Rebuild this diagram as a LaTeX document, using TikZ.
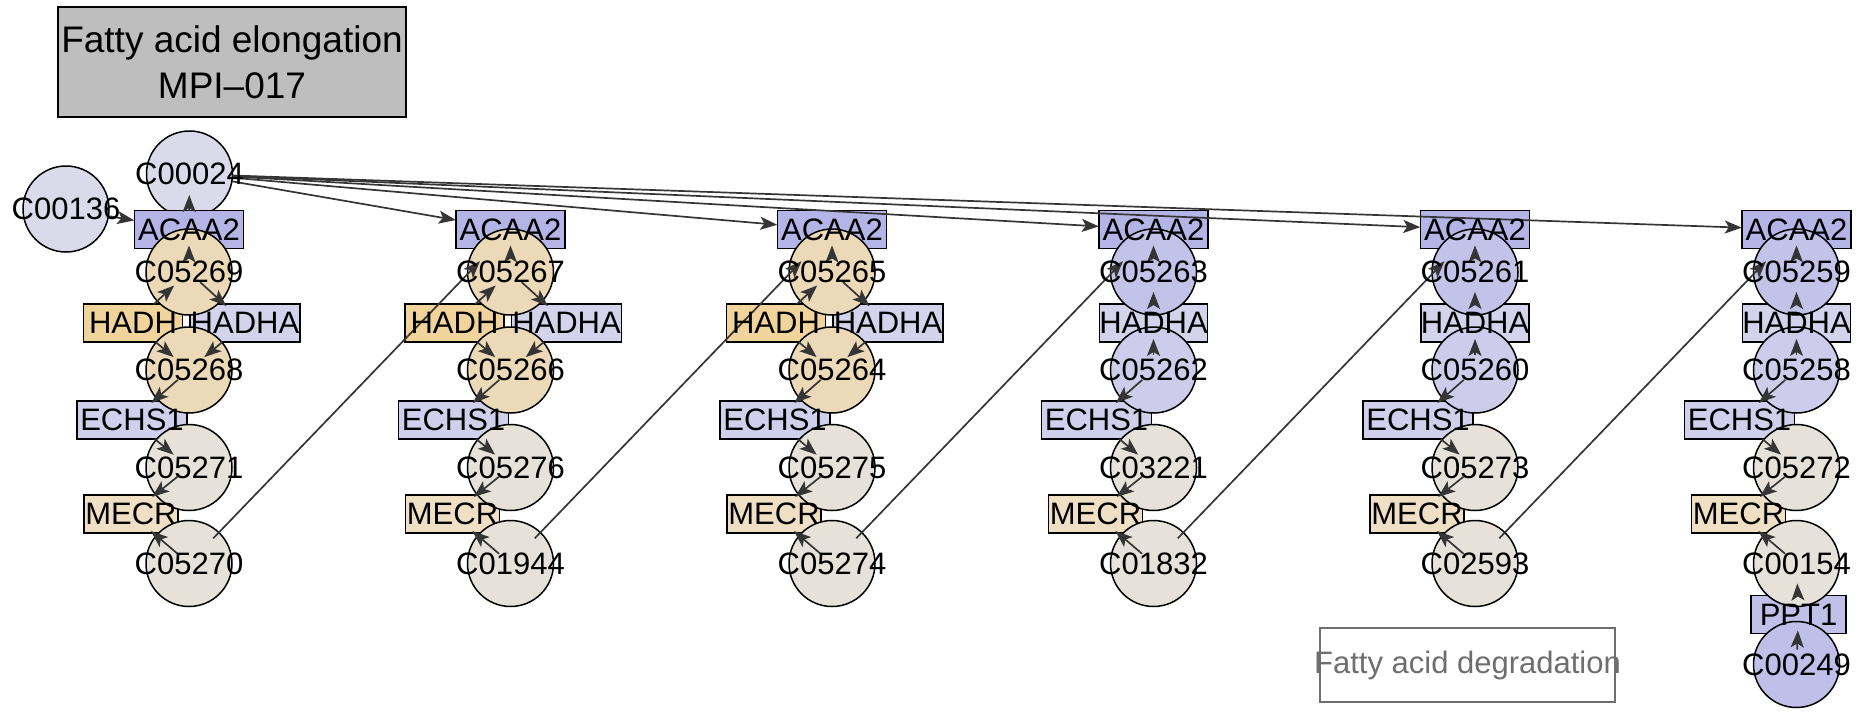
\documentclass[tikz,border=0pt]{standalone}
\usepackage{fontspec}
\setmainfont{Liberation Sans}
\usetikzlibrary{arrows.meta}
\pgfdeclarelayer{bg}
\pgfdeclarelayer{edges}
\pgfsetlayers{bg,edges,main}

\definecolor{titlefill}{HTML}{BEBEBE}
\definecolor{cA}{HTML}{DADAEB}
\definecolor{cW}{HTML}{ECD9B8}
\definecolor{cG}{HTML}{E6E2D9}
\definecolor{cL}{HTML}{C3C3EA}
\definecolor{cLL}{HTML}{CDCDEB}
\definecolor{cP}{HTML}{BFBFEA}
\definecolor{eA}{HTML}{B4B4E6}
\definecolor{eH}{HTML}{F1D49C}
\definecolor{eHA}{HTML}{D3D3EB}
\definecolor{eE}{HTML}{D0D0EC}
\definecolor{eM}{HTML}{EFDFC5}
\definecolor{eP}{HTML}{C0C0E8}
\definecolor{edgecol}{HTML}{353535}
\definecolor{degcol}{HTML}{6E6E6E}

\newcommand\mb[1]{\makebox[0pt]{#1}}
\newcommand\labfont{\fontsize{31}{36}\selectfont}

\tikzset{
  cpd/.style={circle, minimum size=86pt, inner sep=0pt, font=\labfont,
    append after command={\pgfextra{\begin{pgfonlayer}{bg}\filldraw[fill=#1,draw=black,line width=1.5pt] (\tikzlastnode.center) circle[radius=43pt];\end{pgfonlayer}}}},
  enz/.style 2 args={rectangle, minimum width=#2pt, minimum height=37.5pt, inner sep=0pt, font=\labfont,
    append after command={\pgfextra{\begin{pgfonlayer}{bg}\filldraw[fill=#1,draw=black,line width=1.5pt] (\tikzlastnode.south west) rectangle (\tikzlastnode.north east);\end{pgfonlayer}}}},
  ed/.style={draw=edgecol, line width=1.7pt, -{Stealth[length=17pt,width=13pt,inset=4pt]}},
  cb/.style={ed, shorten <=15pt, shorten >=-3pt},
  bc/.style={ed, shorten >=20pt},
  lng/.style={ed, shorten <=35pt, shorten >=44pt},
}

\begin{document}
\begin{tikzpicture}[x=1pt,y=-1pt]
\useasboundingbox (0,0) rectangle (1862,715);

% title and pathway link
\node[draw=black, line width=1.5pt, fill=titlefill, minimum width=348pt, minimum height=110pt, inner sep=0pt, align=center, font=\fontsize{37}{46}\selectfont] (title) at (232,62) {Fatty acid elongation\\MPI–017};
\node[draw=degcol, line width=1.8pt, minimum width=295pt, minimum height=74pt, inner sep=0pt, text=degcol, font=\fontsize{31}{36}\selectfont] (deg) at (1467.5,665) {\makebox[295pt]{Fatty acid degradation}};

% first compounds
\node[cpd=cA] (c00136) at (66,209) {\mb{C00136}};
\node[cpd=cA] (c00024) at (189.5,174) {\mb{C00024}};

% enzymes
\node[enz={eA}{109}] (a1) at (189,229.5) {\mb{ACAA2}};
\node[enz={eA}{109}] (a2) at (510.5,229.5) {\mb{ACAA2}};
\node[enz={eA}{109}] (a3) at (832,229.5) {\mb{ACAA2}};
\node[enz={eA}{109}] (a4) at (1153.5,229.5) {\mb{ACAA2}};
\node[enz={eA}{109}] (a5) at (1475,229.5) {\mb{ACAA2}};
\node[enz={eA}{109}] (a6) at (1796.5,229.5) {\mb{ACAA2}};

\node[enz={eH}{99}] (h1) at (133,323) {\mb{HADH}};
\node[enz={eH}{99}] (h2) at (454.5,323) {\mb{HADH}};
\node[enz={eH}{99}] (h3) at (776,323) {\mb{HADH}};
\node[enz={eHA}{110}] (ha1) at (245,323) {\mb{HADHA}};
\node[enz={eHA}{110}] (ha2) at (566.5,323) {\mb{HADHA}};
\node[enz={eHA}{110}] (ha3) at (888,323) {\mb{HADHA}};
\node[enz={eHA}{108}] (ha4) at (1153.5,323) {\mb{HADHA}};
\node[enz={eHA}{108}] (ha5) at (1475,323) {\mb{HADHA}};
\node[enz={eHA}{108}] (ha6) at (1796.5,323) {\mb{HADHA}};

\node[enz={eE}{110}] (e1) at (132,420) {\mb{ECHS1}};
\node[enz={eE}{110}] (e2) at (453.5,420) {\mb{ECHS1}};
\node[enz={eE}{110}] (e3) at (775,420) {\mb{ECHS1}};
\node[enz={eE}{110}] (e4) at (1096.5,420) {\mb{ECHS1}};
\node[enz={eE}{110}] (e5) at (1418,420) {\mb{ECHS1}};
\node[enz={eE}{110}] (e6) at (1739.5,420) {\mb{ECHS1}};

\node[enz={eM}{94}] (m1) at (131,514) {\mb{MECR}};
\node[enz={eM}{94}] (m2) at (452.5,514) {\mb{MECR}};
\node[enz={eM}{94}] (m3) at (774,514) {\mb{MECR}};
\node[enz={eM}{94}] (m4) at (1095.5,514) {\mb{MECR}};
\node[enz={eM}{94}] (m5) at (1417,514) {\mb{MECR}};
\node[enz={eM}{94}] (m6) at (1738.5,514) {\mb{MECR}};

\node[enz={eP}{95}] (ppt1) at (1798.5,614.5) {\mb{PPT1}};

% compounds
\node[cpd=cW] (c05269) at (189,272) {\mb{C05269}};
\node[cpd=cW] (c05268) at (189,370) {\mb{C05268}};
\node[cpd=cG] (c05271) at (189,467.5) {\mb{C05271}};
\node[cpd=cG] (c05270) at (189,563.5) {\mb{C05270}};

\node[cpd=cW] (c05267) at (510.5,272) {\mb{C05267}};
\node[cpd=cW] (c05266) at (510.5,370) {\mb{C05266}};
\node[cpd=cG] (c05276) at (510.5,467.5) {\mb{C05276}};
\node[cpd=cG] (c01944) at (510.5,563.5) {\mb{C01944}};

\node[cpd=cW] (c05265) at (832,272) {\mb{C05265}};
\node[cpd=cW] (c05264) at (832,370) {\mb{C05264}};
\node[cpd=cG] (c05275) at (832,467.5) {\mb{C05275}};
\node[cpd=cG] (c05274) at (832,563.5) {\mb{C05274}};

\node[cpd=cL] (c05263) at (1153.5,272) {\mb{C05263}};
\node[cpd=cLL] (c05262) at (1153.5,370) {\mb{C05262}};
\node[cpd=cG] (c03221) at (1153.5,467.5) {\mb{C03221}};
\node[cpd=cG] (c01832) at (1153.5,563.5) {\mb{C01832}};

\node[cpd=cL] (c05261) at (1475,272) {\mb{C05261}};
\node[cpd=cLL] (c05260) at (1475,370) {\mb{C05260}};
\node[cpd=cG] (c05273) at (1475,467.5) {\mb{C05273}};
\node[cpd=cG] (c02593) at (1475,563.5) {\mb{C02593}};

\node[cpd=cL] (c05259) at (1796.5,272) {\mb{C05259}};
\node[cpd=cLL] (c05258) at (1796.5,370) {\mb{C05258}};
\node[cpd=cG] (c05272) at (1796.5,467.5) {\mb{C05272}};
\node[cpd=cG] (c00154) at (1796.5,563.5) {\mb{C00154}};
\node[cpd=cP] (c00249) at (1796.5,664.5) {\mb{C00249}};

\begin{pgfonlayer}{edges}
% acetyl-CoA links
\draw[ed] (c00136) -- (a1);
\draw[ed, shorten >=21pt] (a1) -- (c00024.center);
\foreach \t in {a2,a3,a4,a5,a6} \draw[ed] (c00024) -- (\t);

% columns 1-3
\foreach \p/\q/\r/\s/\a/\h/\ha/\e/\m in {c05269/c05268/c05271/c05270/a1/h1/ha1/e1/m1, c05267/c05266/c05276/c01944/a2/h2/ha2/e2/m2, c05265/c05264/c05275/c05274/a3/h3/ha3/e3/m3}{
  \draw[cb] (\p.center) -- (\a);
  \draw[bc] (\h) -- (\p.center);
  \draw[cb] (\p.center) -- (\ha);
  \draw[bc] (\h) -- (\q.center);
  \draw[bc] (\ha) -- (\q.center);
  \draw[cb] (\q.center) -- (\e);
  \draw[bc] (\e) -- (\r.center);
  \draw[cb] (\r.center) -- (\m);
  \draw[cb] (\s.center) -- (\m);
}

% columns 4-6
\foreach \p/\q/\r/\s/\a/\ha/\e/\m in {c05263/c05262/c03221/c01832/a4/ha4/e4/m4, c05261/c05260/c05273/c02593/a5/ha5/e5/m5, c05259/c05258/c05272/c00154/a6/ha6/e6/m6}{
  \draw[cb] (\p.center) -- (\a);
  \draw[bc] (\ha) -- (\p.center);
  \draw[cb] (\q.center) -- (\ha);
  \draw[cb] (\q.center) -- (\e);
  \draw[bc] (\e) -- (\r.center);
  \draw[cb] (\r.center) -- (\m);
  \draw[cb] (\s.center) -- (\m);
}

% long links to the next ACAA2
\draw[lng] (c05270.center) -- (a2.center);
\draw[lng] (c01944.center) -- (a3.center);
\draw[lng] (c05274.center) -- (a4.center);
\draw[lng] (c01832.center) -- (a5.center);
\draw[lng] (c02593.center) -- (a6.center);

% PPT1
\draw[bc] (ppt1) -- (c00154.center);
\draw[cb] (c00249.center) -- (ppt1);
\end{pgfonlayer}
\end{tikzpicture}
\end{document}
